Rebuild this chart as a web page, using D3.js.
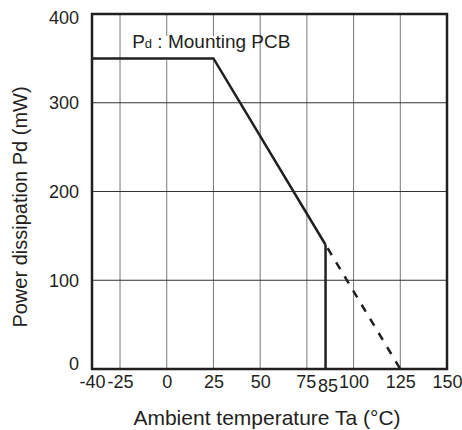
<!DOCTYPE html>
<html>
<head>
<meta charset="utf-8">
<script src="https://cdn.jsdelivr.net/npm/d3@7"></script>
<style>
  html, body { margin: 0; padding: 0; background: #fff; }
  svg { display: block; font-family: "Liberation Sans", Arial, sans-serif; }
</style>
</head>
<body>
<svg id="chart" width="462" height="430"></svg>
<script>
// Pd derating curve (mounted on PCB)
const flatTemp = [-40, 25, 85];
const flatPd = [350, 350, 140];
const cutTemp = [85, 85];
const cutPd = [140, 0];
const dashTemp = [85, 125];
const dashPd = [140, 0];

const xTicks = [-40, -25, 0, 25, 50, 75, 85, 100, 125, 150];
const yTicks = [0, 100, 200, 300, 400];
const xGrid = [-25, 0, 25, 50, 75, 100, 125];
const yGrid = [100, 200, 300];

const ink = "#231f20";
const margin = { top: 14, right: 15, bottom: 61, left: 92 };
const W = 462, H = 430;

const svg = d3.select("#chart");

const x = d3.scaleLinear().domain([-40, 150]).range([margin.left, W - margin.right]);
const y = d3.scaleLinear().domain([0, 400]).range([H - margin.bottom, margin.top]);

// grid
svg.append("g").selectAll("line").data(xGrid).join("line")
  .attr("x1", d => x(d)).attr("x2", d => x(d))
  .attr("y1", y(0)).attr("y2", y(400))
  .attr("stroke", "#777").attr("stroke-width", 1);

svg.append("g").selectAll("line").data(yGrid).join("line")
  .attr("x1", x(-40)).attr("x2", x(150))
  .attr("y1", d => y(d)).attr("y2", d => y(d))
  .attr("stroke", "#333").attr("stroke-width", 1);

// label with white box behind it
const lbl = svg.append("g");
lbl.append("rect")
  .attr("x", x(-23)).attr("y", y(375))
  .attr("width", x(40) - x(-23) + 12).attr("height", 24)
  .attr("fill", "#fff");
const t = lbl.append("text")
  .attr("x", x(-18.5)).attr("y", y(362))
  .attr("fill", ink).attr("font-size", 19);
t.append("tspan").text("P");
t.append("tspan").attr("font-size", 13).text("d");
t.append("tspan").text(" : Mounting PCB");

// curve
const line = d3.line().x(d => x(d[0])).y(d => y(d[1]));

svg.append("path")
  .datum(d3.zip(flatTemp, flatPd))
  .attr("d", line)
  .attr("fill", "none").attr("stroke", ink)
  .attr("stroke-width", 2.5).attr("stroke-linejoin", "miter");

svg.append("path")
  .datum(d3.zip(cutTemp, cutPd))
  .attr("d", line)
  .attr("fill", "none").attr("stroke", ink).attr("stroke-width", 2.5);

svg.append("path")
  .datum(d3.zip(dashTemp, dashPd))
  .attr("d", line)
  .attr("fill", "none").attr("stroke", ink).attr("stroke-width", 2.5)
  .attr("stroke-dasharray", "8,8.5").attr("stroke-dashoffset", -4);

// frame
svg.append("rect")
  .attr("x", x(-40)).attr("y", y(400))
  .attr("width", x(150) - x(-40)).attr("height", y(0) - y(400))
  .attr("fill", "none").attr("stroke", ink).attr("stroke-width", 2.5);

// axes
const plain = d => String(d);

const xAxis = svg.append("g")
  .attr("transform", `translate(0,${y(0)})`)
  .call(d3.axisBottom(x).tickValues(xTicks).tickFormat(plain).tickSize(0).tickPadding(6));
xAxis.select(".domain").remove();
xAxis.selectAll("text")
  .attr("font-family", "Liberation Sans, Arial, sans-serif")
  .attr("font-size", 18).attr("fill", ink)
  .attr("y", d => d === 85 ? 10 : 6)
  .attr("x", d => d === 85 ? 2 : d === 75 ? -1 : 0);

const yAxis = svg.append("g")
  .attr("transform", `translate(${x(-40)},0)`)
  .call(d3.axisLeft(y).tickValues(yTicks).tickFormat(plain).tickSize(0).tickPadding(13));
yAxis.select(".domain").remove();
yAxis.selectAll("text")
  .attr("font-family", "Liberation Sans, Arial, sans-serif")
  .attr("font-size", 18).attr("fill", ink)
  .attr("y", d => d === 0 ? -5 : d === 400 ? 4 : 0);

// axis titles
svg.append("text")
  .attr("x", 267).attr("y", 425)
  .attr("text-anchor", "middle")
  .attr("font-size", 21).attr("fill", ink)
  .text("Ambient temperature Ta (°C)");

svg.append("text")
  .attr("transform", "translate(27,207) rotate(-90)")
  .attr("text-anchor", "middle")
  .attr("font-size", 20).attr("fill", ink)
  .text("Power dissipation Pd (mW)");
</script>
</body>
</html>
